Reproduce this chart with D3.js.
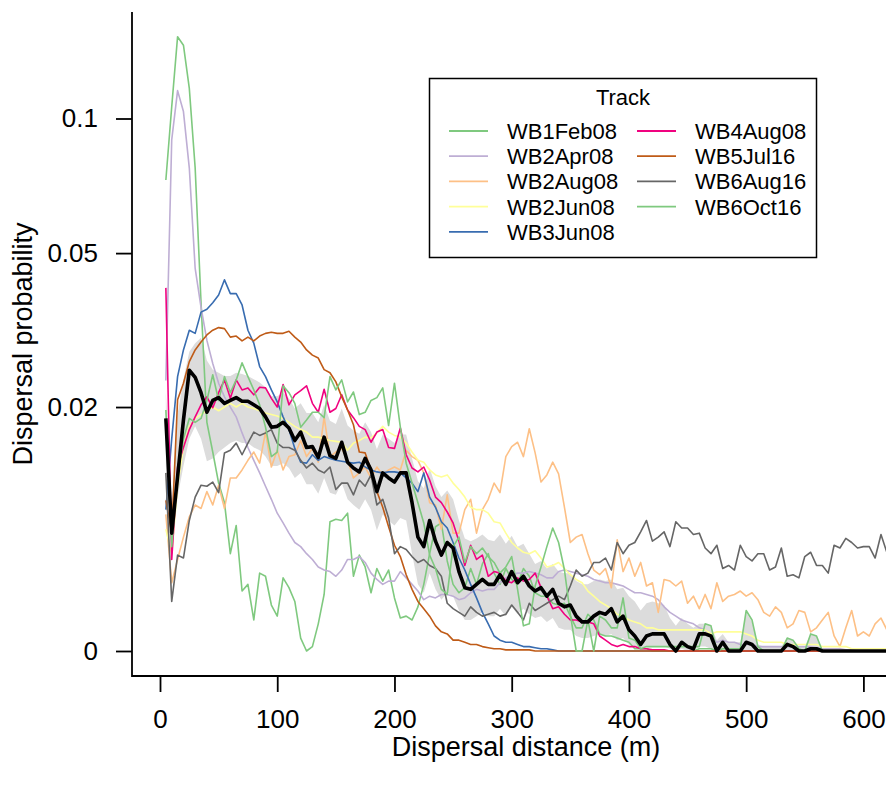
<!DOCTYPE html>
<html>
<head>
<meta charset="utf-8">
<script src="https://cdn.jsdelivr.net/npm/d3@7"></script>
<style>
  body { margin: 0; background: #fff; }
  svg { display: block; font-family: 'Liberation Sans', Arial, sans-serif; }
</style>
</head>
<body>
<svg id="chart" width="886" height="786"></svg>
<script>
// distance grid (m), one value every 5 m
const distance = d3.range(5, 625, 5)

const tracks = ['WB1Feb08', 'WB2Apr08', 'WB2Aug08', 'WB2Jun08', 'WB3Jun08',
                'WB4Aug08', 'WB5Jul16', 'WB6Aug16', 'WB6Oct16']
const trackColors = ['#7fc97f', '#beaed4', '#fdc086', '#ffff99', '#386cb0',
                     '#f0027f', '#bf5b17', '#666666', '#7fc97f']

const wb1Feb08 = [
  0.0734, 0.106, 0.149, 0.143, 0.116, 0.078, 0.038, 0.018, 0.0145, 0.0113,
  0.0095, 0.0055, 0.0076, 0.0031, 0.0035, 0.0015, 0.0042, 0.004, 0.0023, 0.0017,
  0.0039, 0.0033, 0.0025, 0.0006, 0, 0.0002, 0.0013, 0.0029, 0.0079, 0.0081,
  0.008, 0.0086, 0.004, 0.0054, 0.0046, 0.003, 0.0045, 0.0037, 0.0044, 0.0027,
  0.0016, 0.0017, 0.0015, 0.0022, 0.0035, 0.0055, 0.0075, 0.0078, 0.005, 0.0035,
  0.003, 0.0033, 0.0045, 0.0035, 0.0048, 0.0055, 0.0042, 0.0035, 0.0045, 0.0038,
  0.0035, 0.0045, 0.004, 0.003, 0.0028, 0.0028, 0.0024, 0.0023, 0.0024, 0.0017,
  0.0011, 0.0011, 0.0018, 0.0015, 0.0008, 0.0007, 0.0007, 0.0006, 0.0005, 0.0004,
  0.0001, 0.0001, 0.0001, 0, 0, 0, 0, 0, 0, 0,
  0, 0.0001, 0.0001, 0.0001, 0, 0, 0, 0, 0, 0,
  0, 0, 0, 0, 0, 0, 0, 0, 0, 0,
  0, 0, 0, 0, 0, 0, 0, 0, 0, 0,
  0, 0, 0, 0
]
const wb2Apr08 = [
  0.0238, 0.0899, 0.1147, 0.1035, 0.078, 0.046, 0.037, 0.0305, 0.0265, 0.0234,
  0.0214, 0.02, 0.0187, 0.0167, 0.015, 0.0136, 0.0123, 0.011, 0.0098, 0.0086,
  0.0078, 0.007, 0.0063, 0.006, 0.0055, 0.0051, 0.0046, 0.0044, 0.0043, 0.004,
  0.0044, 0.0051, 0.0051, 0.0053, 0.0049, 0.0042, 0.0038, 0.0035, 0.0037, 0.0037,
  0.0043, 0.0039, 0.0035, 0.0031, 0.0026, 0.0028, 0.0027, 0.0029, 0.0029, 0.0028,
  0.0026, 0.0027, 0.003, 0.0032, 0.0031, 0.0032, 0.0032, 0.0036, 0.0039, 0.0041,
  0.0042, 0.0042, 0.0043, 0.0042, 0.0041, 0.0039, 0.0039, 0.0043, 0.0044, 0.0043,
  0.0042, 0.0041, 0.004, 0.0038, 0.0037, 0.0036, 0.0036, 0.0035, 0.0034, 0.0032,
  0.003, 0.003, 0.0029, 0.0028, 0.0026, 0.0022, 0.0019, 0.0017, 0.0015, 0.0014,
  0.0013, 0.0011, 0.001, 0.0007, 0.0004, 0.0005, 0.0004, 0.0004, 0.0003, 0.0003,
  0.0003, 0.0002, 0.0002, 0.0002, 0.0002, 0.0002, 0.0002, 0.0002, 0.0002, 0.0002,
  0.0002, 0.00015, 0.0001, 0.0001, 0.0001, 0.0001, 0.00005, 0.00005, 0, 0,
  0, 0, 0, 0
]
const wb2Aug08 = [
  0.0085, 0.0036, 0.0051, 0.0067, 0.0083, 0.0093, 0.009, 0.0105, 0.0093, 0.0111,
  0.009, 0.0118, 0.0118, 0.0126, 0.0136, 0.0145, 0.0133, 0.0168, 0.0129, 0.0147,
  0.0126, 0.014, 0.0142, 0.0158, 0.014, 0.0149, 0.0134, 0.0187, 0.014, 0.0145,
  0.0149, 0.0136, 0.0118, 0.0123, 0.0129, 0.0118, 0.0129, 0.0121, 0.0126, 0.0129,
  0.0126, 0.0147, 0.014, 0.0136, 0.0123, 0.0095, 0.0093, 0.0073, 0.0102, 0.007,
  0.007, 0.0089, 0.0098, 0.007, 0.0089, 0.0098, 0.0113, 0.0104, 0.014, 0.0151,
  0.0156, 0.014, 0.0172, 0.0144, 0.0114, 0.0121, 0.0134, 0.0122, 0.0091, 0.0063,
  0.0067, 0.0069, 0.0055, 0.0044, 0.0041, 0.0045, 0.0033, 0.0065, 0.0043, 0.0052,
  0.004, 0.0049, 0.0034, 0.0036, 0.0019, 0.0038, 0.0037, 0.0034, 0.0037, 0.0024,
  0.0028, 0.0021, 0.0029, 0.0021, 0.0036, 0.0025, 0.0028, 0.0029, 0.0031, 0.0028,
  0.003, 0.0026, 0.0019, 0.0017, 0.0022, 0.0019, 0.0011, 0.0013, 0.002, 0.0019,
  0.0009, 0.0011, 0.0015, 0.0019, 0.0007, 0.0002, 0.0011, 0.002, 0.0007, 0.0009,
  0.0007, 0.0013, 0.0016, 0.001
]
const wb2Jun08 = [
  0.0073, 0.0055, 0.011, 0.015, 0.0175, 0.0185, 0.019, 0.0195, 0.02, 0.0195,
  0.02, 0.0205, 0.02, 0.0205, 0.02, 0.0198, 0.0195, 0.0192, 0.019, 0.0188,
  0.0185, 0.018, 0.0175, 0.0171, 0.0168, 0.0162, 0.0162, 0.016, 0.0158, 0.0157,
  0.0156, 0.0147, 0.0155, 0.0158, 0.0162, 0.0161, 0.0167, 0.0175, 0.0168, 0.0164,
  0.0162, 0.0155, 0.0145, 0.0136, 0.0134, 0.0126, 0.0121, 0.0119, 0.0121, 0.0113,
  0.0107, 0.01, 0.0091, 0.0089, 0.0089, 0.0086, 0.0079, 0.0078, 0.007, 0.0063,
  0.0059, 0.0056, 0.0055, 0.0057, 0.0052, 0.0046, 0.0047, 0.0049, 0.0045, 0.0041,
  0.0038, 0.0036, 0.0031, 0.0028, 0.0025, 0.0023, 0.0021, 0.0018, 0.0017, 0.0015,
  0.0014, 0.0013, 0.0011, 0.0011, 0.001, 0.001, 0.001, 0.001, 0.001, 0.001,
  0.001, 0.001, 0.001, 0.0008, 0.0009, 0.0009, 0.0009, 0.0009, 0.0009, 0.0008,
  0.0007, 0.0005, 0.0004, 0.0004, 0.0004, 0.0004, 0.0003, 0.0003, 0.0003, 0.0003,
  0.0003, 0.0003, 0.0002, 0.0002, 0.0002, 0.0002, 0.0002, 0.0001, 0.0001, 0.0001,
  0.0001, 0.0001, 0.0001, 0.0001
]
const wb3Jun08 = [
  0.0089, 0.016, 0.0244, 0.0288, 0.0324, 0.0318, 0.036, 0.0366, 0.038, 0.0397,
  0.0432, 0.04, 0.04, 0.0375, 0.0324, 0.03, 0.026, 0.0244, 0.0224, 0.0207,
  0.0187, 0.0171, 0.0149, 0.0134, 0.0133, 0.0142, 0.0136, 0.014, 0.0138, 0.0136,
  0.0135, 0.0134, 0.0133, 0.0134, 0.0129, 0.0126, 0.0124, 0.0123, 0.0124, 0.0124,
  0.0123, 0.0118, 0.0113, 0.0105, 0.0123, 0.01, 0.0091, 0.0079, 0.0074, 0.0063,
  0.0052, 0.0044, 0.0035, 0.0027, 0.0019, 0.0013, 0.0007, 0.0005, 0.0004, 0.0004,
  0.0003, 0.0002, 0.0002, 0.00015, 0.0001, 0.0001, 0.00005, 0, 0, 0,
  0, 0, 0, 0, 0, 0, 0, 0, 0, 0,
  0, 0, 0, 0, 0, 0, 0, 0, 0, 0,
  0, 0, 0, 0, 0, 0, 0, 0, 0, 0,
  0, 0, 0, 0, 0, 0, 0, 0, 0, 0,
  0, 0, 0, 0, 0, 0, 0, 0, 0, 0,
  0, 0, 0, 0
]
const wb4Aug08 = [
  0.0413, 0.0051, 0.0129, 0.015, 0.0171, 0.0187, 0.0203, 0.0214, 0.0199, 0.022,
  0.0239, 0.0212, 0.0239, 0.0224, 0.0227, 0.0217, 0.0228, 0.0227, 0.0212, 0.02,
  0.0232, 0.0203, 0.0217, 0.0223, 0.023, 0.0205, 0.0193, 0.0225, 0.0193, 0.0198,
  0.0217, 0.0196, 0.0186, 0.0175, 0.0171, 0.0156, 0.0168, 0.0171, 0.015, 0.0149,
  0.0173, 0.0142, 0.0128, 0.0124, 0.0129, 0.0116, 0.01, 0.0095, 0.0087, 0.0078,
  0.0064, 0.0047, 0.0061, 0.0051, 0.0054, 0.004, 0.0043, 0.0042, 0.0037, 0.0036,
  0.0039, 0.0037, 0.0038, 0.0042, 0.0033, 0.0028, 0.0021, 0.0022, 0.0018, 0.0015,
  0.0015, 0.0014, 0.0014, 0.0013, 0.0007, 0.0005, 0.0003, 0.0002, 0.0003, 0.0002,
  0.0002, 0.0001, 0.0001, 0.00005, 0.00005, 0.00005, 0, 0, 0, 0,
  0, 0, 0, 0, 0, 0, 0, 0, 0, 0,
  0, 0, 0, 0, 0, 0, 0, 0, 0, 0,
  0, 0, 0, 0, 0, 0, 0, 0, 0, 0,
  0, 0, 0, 0
]
const wb5Jul16 = [
  0.0097, 0.007, 0.021, 0.0234, 0.0268, 0.0288, 0.0302, 0.0315, 0.0324, 0.0329,
  0.0327, 0.0311, 0.0313, 0.0304, 0.0311, 0.0304, 0.0313, 0.0318, 0.032, 0.0318,
  0.0318, 0.0322, 0.0311, 0.0302, 0.0288, 0.0279, 0.0274, 0.0255, 0.025, 0.0236,
  0.0214, 0.0196, 0.0177, 0.0145, 0.0144, 0.0126, 0.0105, 0.0091, 0.0075, 0.0061,
  0.0053, 0.0041, 0.0032, 0.0025, 0.0021, 0.0017, 0.0012, 0.0009, 0.0008, 0.0005,
  0.0005, 0.0004, 0.0003, 0.0003, 0.0002, 0.00015, 0.0001, 0.0001, 0.00005, 0.00005,
  0.00005, 0.00005, 0.00005, 0, 0, 0, 0, 0, 0, 0,
  0, 0, 0, 0, 0, 0, 0, 0, 0, 0,
  0, 0, 0, 0, 0, 0, 0, 0, 0, 0,
  0, 0, 0, 0, 0, 0, 0, 0, 0, 0,
  0, 0, 0, 0, 0, 0, 0, 0, 0, 0,
  0, 0, 0, 0, 0, 0, 0, 0, 0, 0,
  0, 0, 0, 0
]
const wb6Aug16 = [
  0.0123, 0.0025, 0.0054, 0.0052, 0.008, 0.01, 0.0111, 0.011, 0.0114, 0.0104,
  0.0144, 0.0147, 0.0155, 0.0142, 0.0155, 0.0168, 0.0164, 0.0167, 0.0171, 0.0155,
  0.015, 0.015, 0.0147, 0.0136, 0.0128, 0.0133, 0.0126, 0.0123, 0.0129, 0.0107,
  0.0113, 0.0113, 0.0102, 0.0116, 0.011, 0.0121, 0.0093, 0.0098, 0.0082, 0.0055,
  0.006, 0.0058, 0.0053, 0.0049, 0.0051, 0.0047, 0.0045, 0.004, 0.0024, 0.0021,
  0.0019, 0.0017, 0.0022, 0.0019, 0.0017, 0.0018, 0.0019, 0.0017, 0.0018, 0.0023,
  0.0019, 0.0015, 0.0024, 0.002, 0.0022, 0.0024, 0.0026, 0.0028, 0.0026, 0.0034,
  0.0044, 0.004, 0.0042, 0.0049, 0.0049, 0.0052, 0.0044, 0.0063, 0.0055, 0.0061,
  0.0063, 0.0071, 0.008, 0.0064, 0.0067, 0.0071, 0.006, 0.0079, 0.0074, 0.0074,
  0.0069, 0.007, 0.0059, 0.0055, 0.0061, 0.0045, 0.0047, 0.0044, 0.0061, 0.0053,
  0.005, 0.0055, 0.0055, 0.0044, 0.0046, 0.0059, 0.004, 0.0041, 0.0039, 0.0053,
  0.0056, 0.0047, 0.0047, 0.0042, 0.0061, 0.0059, 0.0066, 0.0063, 0.0059, 0.006,
  0.006, 0.0052, 0.0069, 0.0056
]
const wb6Oct16 = [
  0.0196, 0.006, 0.012, 0.016, 0.0185, 0.018, 0.0185, 0.0209, 0.0247, 0.0209,
  0.0244, 0.022, 0.0239, 0.0266, 0.0244, 0.0224, 0.0203, 0.0174, 0.014, 0.0145,
  0.023, 0.022, 0.0205, 0.0174, 0.0183, 0.0193, 0.0193, 0.0186, 0.0244, 0.0224,
  0.0239, 0.0207, 0.0221, 0.019, 0.0193, 0.0209, 0.0213, 0.0227, 0.0176, 0.0234,
  0.0174, 0.0133, 0.0113, 0.0095, 0.0078, 0.0054, 0.0045, 0.0032, 0.0029, 0.006,
  0.0067, 0.0049, 0.006, 0.0055, 0.0059, 0.0053, 0.0049, 0.0042, 0.0046, 0.0053,
  0.0032, 0.0012, 0.0013, 0.0034, 0.0046, 0.006, 0.0074, 0.0063, 0.0044, 0.0018,
  0, 0, 0.0015, 0, 0.0017, 0.0015, 0.0011, 0.0011, 0.0027, 0.0006,
  0.0005, 0.0001, 0.0002, 0.0002, 0.0002, 0.0002, 0.0002, 0.0002, 0.0002, 0.0002,
  0.0002, 0.0002, 0.0013, 0.0012, 0, 0.0001, 0.0001, 0.0001, 0.0001, 0.002,
  0.0015, 0.0002, 0, 0, 0, 0, 0.0006, 0.0005, 0.0001, 0,
  0.0008, 0.0007, 0, 0, 0, 0, 0, 0, 0, 0,
  0, 0, 0, 0
]

// overall curve (thick black) and its grey envelope
const meanProb = [
  0.0185, 0.007, 0.0119, 0.0183, 0.0254, 0.0243, 0.022, 0.0193, 0.0209, 0.0213,
  0.0205, 0.0209, 0.0213, 0.0208, 0.0208, 0.0203, 0.0198, 0.0187, 0.0174, 0.0175,
  0.018, 0.0173, 0.0158, 0.0168, 0.015, 0.0151, 0.0139, 0.0162, 0.0141, 0.0138,
  0.0156, 0.0134, 0.0128, 0.0124, 0.0138, 0.0126, 0.0105, 0.0123, 0.0118, 0.0114,
  0.0123, 0.0123, 0.0095, 0.0067, 0.006, 0.008, 0.0064, 0.0054, 0.0063, 0.0059,
  0.0043, 0.0033, 0.0032, 0.0035, 0.0038, 0.0035, 0.0035, 0.0041, 0.0035, 0.0043,
  0.0036, 0.004, 0.0034, 0.0031, 0.0033, 0.0028, 0.0032, 0.0024, 0.0022, 0.0023,
  0.0017, 0.0014, 0.0014, 0.0017, 0.0019, 0.0018, 0.0021, 0.0014, 0.0017, 0.001,
  0.0007, 0.0003, 0.0007, 0.0008, 0.0008, 0.0008, 0.0003, 0, 0.0004, 0.0002,
  0.0001, 0.0008, 0.0008, 0.0007, 0, 0.0004, 0, 0, 0, 0.0004,
  0.0003, 0, 0, 0, 0, 0, 0.0003, 0.0002, 0, 0,
  0.0001, 0.0001, 0, 0, 0, 0, 0, 0, 0, 0,
  0, 0, 0, 0
]
const bandLow = [
  0.013, 0.0055, 0.01, 0.013, 0.016, 0.0175, 0.016, 0.0135, 0.0138, 0.0145,
  0.015, 0.0155, 0.0158, 0.0155, 0.0155, 0.015, 0.0147, 0.014, 0.013, 0.013,
  0.0133, 0.0128, 0.0118, 0.0123, 0.0112, 0.0112, 0.0103, 0.0118, 0.0104, 0.0102,
  0.0113, 0.0098, 0.0093, 0.0089, 0.0098, 0.0089, 0.0072, 0.0085, 0.008, 0.0076,
  0.0082, 0.008, 0.0055, 0.0035, 0.003, 0.0042, 0.0032, 0.0026, 0.003, 0.0028,
  0.002, 0.0015, 0.0015, 0.0017, 0.0019, 0.0017, 0.0017, 0.0021, 0.0017, 0.0022,
  0.0018, 0.0021, 0.0018, 0.0016, 0.0017, 0.0014, 0.0016, 0.0011, 0.001, 0.001,
  0.0007, 0.0006, 0.0006, 0.0007, 0.0008, 0.0007, 0.0008, 0.0005, 0.0006, 0.0003,
  0.0002, 0.0001, 0.0002, 0.0002, 0.0002, 0.0002, 0.0001, 0, 0.0001, 0,
  0, 0.0002, 0.0002, 0.0001, 0, 0, 0, 0, 0, 0,
  0, 0, 0, 0, 0, 0, 0, 0, 0, 0,
  0, 0, 0, 0, 0, 0, 0, 0, 0, 0,
  0, 0, 0, 0
]
const bandHigh = [
  0.022, 0.009, 0.019, 0.024, 0.0285, 0.03, 0.031, 0.027, 0.0255, 0.025,
  0.0245, 0.0245, 0.025, 0.0248, 0.0245, 0.024, 0.0235, 0.0228, 0.0215, 0.0215,
  0.022, 0.0212, 0.0198, 0.0205, 0.0192, 0.0192, 0.018, 0.0203, 0.0182, 0.0178,
  0.0198, 0.0176, 0.017, 0.0166, 0.018, 0.0168, 0.0148, 0.0165, 0.016, 0.0155,
  0.0165, 0.0165, 0.0138, 0.0115, 0.0108, 0.0128, 0.011, 0.01, 0.0106, 0.0098,
  0.008, 0.0066, 0.0064, 0.0066, 0.0069, 0.0065, 0.0064, 0.0069, 0.0062, 0.0068,
  0.006, 0.0062, 0.0055, 0.0048, 0.005, 0.0045, 0.0048, 0.0043, 0.0042, 0.0042,
  0.0037, 0.0035, 0.0035, 0.0037, 0.0038, 0.0037, 0.0038, 0.0032, 0.0033, 0.0028,
  0.0025, 0.002, 0.0024, 0.0025, 0.0024, 0.0023, 0.0016, 0.0012, 0.0016, 0.0013,
  0.0011, 0.0013, 0.0013, 0.0012, 0.0005, 0.0008, 0.0004, 0.0004, 0.0004, 0.0019,
  0.0014, 0.0003, 0.0002, 0.0002, 0.0002, 0.0002, 0.0006, 0.0005, 0.0002, 0.0002,
  0.0008, 0.0007, 0.0001, 0, 0, 0, 0, 0, 0, 0,
  0, 0, 0, 0
]

const xTicks = [0, 100, 200, 300, 400, 500, 600]
const yTicks = [0, 0.02, 0.05, 0.1]
const yTickLabels = ['0', '0.02', '0.05', '0.1']

const series = [wb1Feb08, wb2Apr08, wb2Aug08, wb2Jun08, wb3Jun08,
                wb4Aug08, wb5Jul16, wb6Aug16, wb6Oct16]

/* layout */
const plot = { left: 132, right: 920, top: 12, bottom: 676 }

const x = d3.scaleLinear().domain([0, 600]).range([160, 863.4])
const y = d3.scaleSymlog().constant(0.01).domain([0, 0.1]).range([651, 118.5])

const svg = d3.select('#chart')

svg.append('defs').append('clipPath').attr('id', 'plotclip')
  .append('rect')
  .attr('x', plot.left).attr('y', plot.top)
  .attr('width', plot.right - plot.left).attr('height', plot.bottom - plot.top)

const g = svg.append('g').attr('clip-path', 'url(#plotclip)')

// envelope
const band = d3.area()
  .x((d, i) => x(distance[i]))
  .y0((d, i) => y(bandLow[i]))
  .y1((d, i) => y(bandHigh[i]))

g.append('path')
  .datum(distance)
  .attr('d', band)
  .attr('fill', '#dcdcdc')
  .attr('stroke', 'none')

const line = d3.line()
  .x((d, i) => x(distance[i]))
  .y(d => y(d))

series.forEach((vals, k) => {
  g.append('path')
    .datum(vals)
    .attr('d', line)
    .attr('fill', 'none')
    .attr('stroke', trackColors[k])
    .attr('stroke-width', 1.6)
    .attr('stroke-linejoin', 'round')
})

g.append('path')
  .datum(meanProb)
  .attr('d', line)
  .attr('fill', 'none')
  .attr('stroke', '#000')
  .attr('stroke-width', 3.6)
  .attr('stroke-linejoin', 'round')

/* axes */
const xAxis = svg.append('g')
  .attr('transform', `translate(0,${plot.bottom})`)
  .call(d3.axisBottom(x).tickValues(xTicks).tickSize(16).tickPadding(18).tickFormat(d3.format('d')))
xAxis.select('.domain').remove()

const yAxis = svg.append('g')
  .attr('transform', `translate(${plot.left},0)`)
  .call(d3.axisLeft(y).tickValues(yTicks).tickSize(16).tickPadding(18)
    .tickFormat((d, i) => yTickLabels[i]))
yAxis.select('.domain').remove()

svg.selectAll('.tick line').attr('stroke', '#000').attr('stroke-width', 1.8)
svg.selectAll('.tick text')
  .attr('fill', '#000')
  .style('font-family', "'Liberation Sans', Arial, sans-serif")
  .style('font-size', '26px')

// L-shaped frame
svg.append('path')
  .attr('d', `M${plot.left},${plot.top}V${plot.bottom}H${plot.right}`)
  .attr('fill', 'none')
  .attr('stroke', '#000')
  .attr('stroke-width', 1.8)

svg.append('text')
  .attr('x', (plot.left + plot.right) / 2)
  .attr('y', 756)
  .attr('text-anchor', 'middle')
  .style('font-size', '27px')
  .text('Dispersal distance (m)')

svg.append('text')
  .attr('transform', `translate(32,${(plot.top + plot.bottom) / 2}) rotate(-90)`)
  .attr('text-anchor', 'middle')
  .style('font-size', '27px')
  .text('Dispersal probability')

/* legend */
const legend = svg.append('g')
legend.append('rect')
  .attr('x', 429.5).attr('y', 78.5)
  .attr('width', 387).attr('height', 179)
  .attr('fill', '#fff')
  .attr('stroke', '#000')
  .attr('stroke-width', 1.5)

legend.append('text')
  .attr('x', 623).attr('y', 104.5)
  .attr('text-anchor', 'middle')
  .style('font-size', '22px')
  .text('Track')

const colX = [449, 637]
tracks.forEach((name, i) => {
  const col = i < 5 ? 0 : 1
  const row = i < 5 ? i : i - 5
  const cy = 131 + row * 25.2
  legend.append('line')
    .attr('x1', colX[col]).attr('x2', colX[col] + 39)
    .attr('y1', cy).attr('y2', cy)
    .attr('stroke', trackColors[i])
    .attr('stroke-width', 1.8)
  legend.append('text')
    .attr('x', colX[col] + 58).attr('y', cy + 8)
    .style('font-size', '22px')
    .text(name)
})
</script>
</body>
</html>
